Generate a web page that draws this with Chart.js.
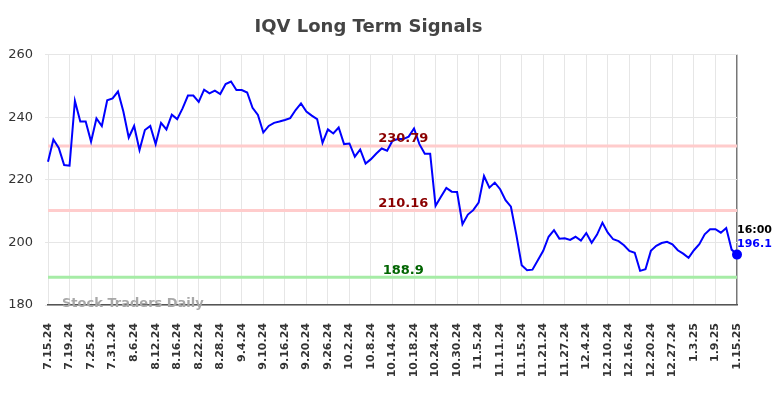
<!DOCTYPE html>
<html>
<head>
<meta charset="utf-8">
<script src="https://cdn.jsdelivr.net/npm/chart.js@4.4.1/dist/chart.umd.min.js"></script>
<style>
  html, body { margin: 0; padding: 0; background: #fff; }
  #wrap { width: 784px; height: 398px; }
</style>
</head>
<body>
<div id="wrap"><canvas id="iqvChart" width="784" height="398"></canvas></div>
<script>
// tick labels, one every 4 trading days
const tickLabels = [
  "7.15.24", "7.19.24", "7.25.24", "7.31.24", "8.6.24", "8.12.24", "8.16.24",
  "8.22.24", "8.28.24", "9.4.24", "9.10.24", "9.16.24", "9.20.24", "9.26.24",
  "10.2.24", "10.8.24", "10.14.24", "10.18.24", "10.24.24", "10.30.24",
  "11.5.24", "11.11.24", "11.15.24", "11.21.24", "11.27.24", "12.4.24",
  "12.10.24", "12.16.24", "12.20.24", "12.27.24", "1.3.25", "1.9.25", "1.15.25",
];

// daily closes
const closes = [
  225.8, 232.9, 230.2, 224.7, 224.5, 245.2, 238.6, 238.6, 232.2, 239.6,
  237.2, 245.4, 246.0, 248.2, 241.8, 233.5, 237.2, 229.5, 235.9, 237.2,
  231.4, 238.2, 236.1, 240.8, 239.4, 242.8, 246.9, 246.9, 244.9, 248.8,
  247.6, 248.5, 247.4, 250.6, 251.4, 248.7, 248.7, 247.9, 243.0, 240.7,
  235.1, 237.2, 238.2, 238.6, 239.1, 239.7, 242.3, 244.4, 241.8, 240.5,
  239.4, 231.8, 236.1, 234.8, 236.7, 231.4, 231.6, 227.4, 229.7, 225.2,
  226.6, 228.4, 230.0, 229.3, 232.5, 233.0, 233.0, 233.8, 236.4, 231.4,
  228.3, 228.3, 211.7, 214.6, 217.4, 216.2, 216.1, 205.8, 208.9, 210.3,
  212.7, 221.2, 217.5, 219.1, 217.0, 213.5, 211.4, 202.5, 192.7, 191.1,
  191.3, 194.3, 197.3, 201.8, 203.9, 201.2, 201.3, 200.8, 201.8, 200.6,
  203.0, 199.9, 202.5, 206.3, 203.1, 201.0, 200.4, 199.1, 197.3, 196.7,
  190.9, 191.4, 197.3, 198.9, 199.8, 200.2, 199.4, 197.5, 196.4, 195.1,
  197.5, 199.4, 202.6, 204.2, 204.2, 203.1, 204.6, 197.7, 196.1,
];

const signalLevels = [230.79, 210.16, 188.9];
const signalColors = ["#ffcccc", "#ffcccc", "#a6eca6"];
const signalTextColors = ["#8b0000", "#8b0000", "#006400"];

const lastTime = "16:00";
const lastIdx = closes.length - 1;

const FONT = "'DejaVu Sans', sans-serif";

const signalLabels = {
  id: "signalLabels",
  afterDatasetsDraw(chart) {
    const { ctx, scales: { x, y } } = chart;
    ctx.save();
    ctx.font = "bold 13px " + FONT;
    ctx.textAlign = "center";
    ctx.textBaseline = "middle";
    signalLevels.forEach((lvl, i) => {
      ctx.fillStyle = signalTextColors[i];
      const label = String(lvl);
      ctx.fillText(label, x.getPixelForValue(66), y.getPixelForValue(lvl) - 7);
    });

    // last point label
    const px = x.getPixelForValue(lastIdx);
    const py = y.getPixelForValue(closes[lastIdx]);
    ctx.font = "bold 11px " + FONT;
    ctx.textAlign = "left";
    ctx.fillStyle = "#000";
    ctx.fillText(lastTime, px, py - 24);
    ctx.fillStyle = "#0000ff";
    ctx.fillText(closes[lastIdx].toFixed(1), px, py - 10);

    // watermark
    ctx.font = "bold 13px " + FONT;
    ctx.fillStyle = "#a8a8a8";
    ctx.fillText("Stock Traders Daily", x.left + 14, y.bottom - 1);
    ctx.restore();
  },
};

const datasets = [
  {
    data: closes.map((v, i) => ({ x: i, y: v })),
    borderColor: "#0000ff",
    backgroundColor: "#0000ff",
    borderWidth: 2,
    pointRadius: (c) => (c.dataIndex === lastIdx ? 4 : 0),
    pointHoverRadius: 0,
    tension: 0,
    clip: false,
    order: 0,
  },
];
signalLevels.forEach((lvl, i) => {
  datasets.push({
    data: [{ x: 0, y: lvl }, { x: lastIdx, y: lvl }],
    borderColor: signalColors[i],
    borderWidth: 3,
    pointRadius: 0,
    order: 1,
  });
});

const ctx = document.getElementById("iqvChart").getContext("2d");
const iqvChart = new Chart(ctx, {
  type: "line",
  data: { datasets },
  options: {
    responsive: false,
    animation: false,
    layout: { padding: { left: 0, right: 47, top: 0, bottom: 0 } },
    plugins: {
      legend: { display: false },
      tooltip: { enabled: false },
      title: {
        display: true,
        text: "IQV Long Term Signals",
        color: "#444",
        font: { family: FONT, size: 18, weight: "bold" },
        padding: { top: 17, bottom: 16 },
      },
    },
    scales: {
      x: {
        type: "linear",
        min: 0,
        max: lastIdx,
        afterFit: (s) => { s.height = 93; },
        grid: {
          color: (c) => (c.tick && c.tick.value === lastIdx ? "#777" : "#e6e6e6"),
          lineWidth: (c) => (c.tick && c.tick.value === lastIdx ? 1.5 : 1),
          drawTicks: false,
        },
        border: { display: true, color: "#555", width: 1.5 },
        ticks: {
          stepSize: 4,
          autoSkip: false,
          maxRotation: 90,
          minRotation: 90,
          padding: 18,
          color: "#333",
          font: { family: FONT, size: 11, weight: "bold" },
          callback: (v) => tickLabels[v / 4],
        },
      },
      y: {
        min: 180,
        max: 260,
        afterFit: (s) => { s.width = 48; },
        grid: { color: "#e6e6e6", tickLength: 3 },
        border: { display: false },
        ticks: {
          stepSize: 20,
          padding: 12,
          color: "#333",
          font: { family: FONT, size: 13 },
        },
      },
    },
  },
  plugins: [signalLabels],
});
</script>
</body>
</html>
